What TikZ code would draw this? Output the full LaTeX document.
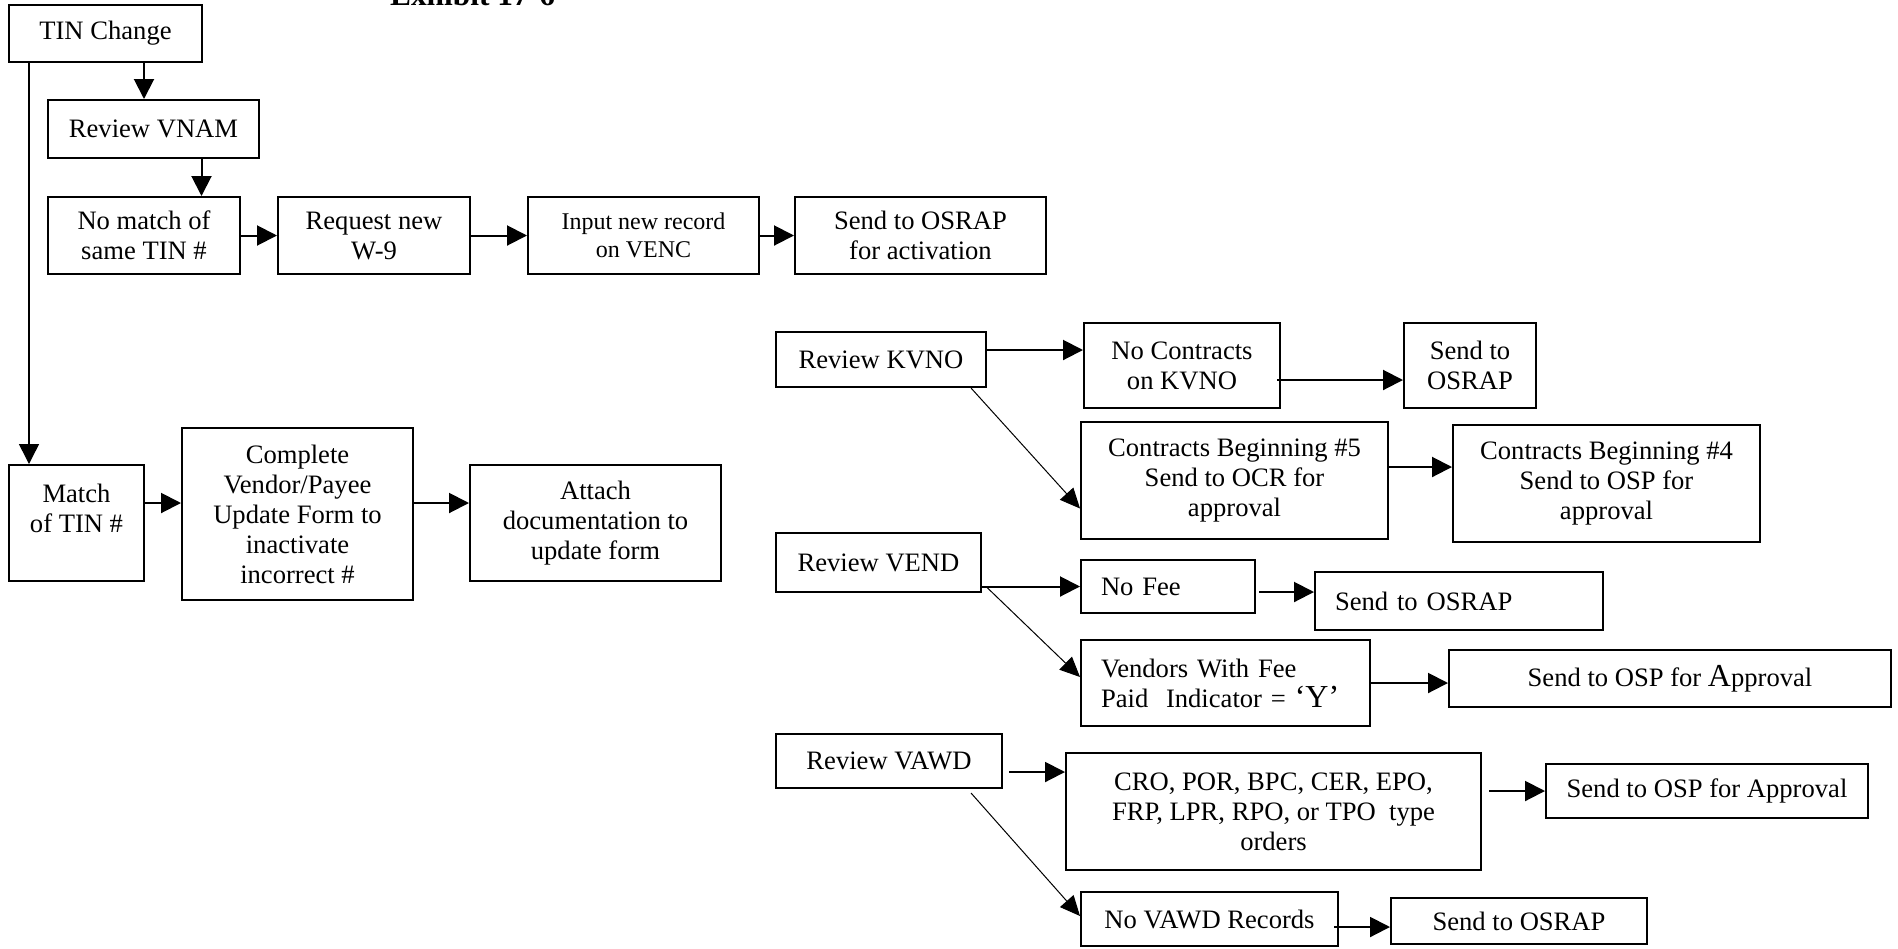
\documentclass[tikz,border=0pt]{standalone}
\usepackage{fontspec}
\setmainfont{Liberation Serif}
\usetikzlibrary{arrows.meta}

\begin{document}
\begin{tikzpicture}[x=0.5pt, y=-0.5pt,
    stage/.style={draw, line width=1pt, inner sep=0pt, align=center,
      font=\fontsize{13.3}{15}\selectfont},
    leftbox/.style={stage, align=left, inner xsep=10pt, text width=#1},
    flow/.style={-{Triangle[length=10pt,width=10pt]}, line width=1pt},
    slant/.style={-{Triangle[length=10pt,width=9pt]}, line width=0.5pt}]
    \useasboundingbox (0,0) rectangle (1898,948);
    % タイトル(上が切れている)
    \node[font=\bfseries\fontsize{15.7}{16}\selectfont, anchor=base west] (title) at (383,5) {Exhibit 17-6};
    % --- 左側: TIN 変更 ---
    \node[stage, minimum width=96.5pt, minimum height=28.5pt] (tin) at (105.5,33.5) {TIN Change};
    \node[stage, minimum width=105.5pt, minimum height=29pt] (vnam) at (153.5,129) {Review VNAM};
    \node[stage, minimum width=96pt, minimum height=38.5pt] (nomatch) at (144,235.5) {No match of\\same TIN \#};
    \node[stage, minimum width=96pt, minimum height=38.5pt] (request) at (374,235.5) {Request new\\W-9};
    \node[stage, minimum width=115.5pt, minimum height=38.5pt, font=\fontsize{12}{14}\selectfont] (input) at (643.5,235.5) {Input new record\\on VENC};
    \node[stage, minimum width=125.5pt, minimum height=38.5pt] (activ) at (920.5,235.5) {Send to OSRAP\\for activation};
    \node[stage, minimum width=67.5pt, minimum height=58pt] (match) at (76.5,523) {Match\\of TIN \#\\ \mbox{}};
    \node[stage, minimum width=115.5pt, minimum height=86pt] (complete) at (297.5,514) {Complete\\Vendor/Payee\\Update Form to\\inactivate\\incorrect \#};
    \node[stage, minimum width=125.5pt, minimum height=58pt] (attach) at (595.5,523) {Attach\\documentation to\\update form};
    % 矢印
    \draw[flow] ([xshift=19.25pt]tin.south) -- ([xshift=19.25pt]tin.south |- vnam.north);
    \draw[flow] ([xshift=24pt]vnam.south) -- ([xshift=24pt]vnam.south |- nomatch.north);
    \draw[flow, line width=0.75pt] ([xshift=10.5pt]tin.south west) -- ([xshift=10.5pt]tin.south west |- match.north);
    \draw[flow] (nomatch.east) -- (request.west);
    \draw[flow] (request.east) -- (input.west);
    \draw[flow] (input.east) -- (activ.west);
    \draw[flow] ([yshift=10pt]match.east) -- ([yshift=10pt]match.east -| complete.west);
    \draw[flow] ([yshift=5.5pt]complete.east) -- ([yshift=5.5pt]complete.east -| attach.west);
    % --- 右側: KVNO ---
    \node[stage, minimum width=105pt, minimum height=27.5pt] (kvno) at (881,359.5) {Review KVNO};
    \node[stage, minimum width=98pt, minimum height=42.5pt] (nocontr) at (1182,365.5) {No Contracts\\on KVNO};
    \node[stage, minimum width=66pt, minimum height=42.5pt] (osrapa) at (1470,365.5) {Send to\\OSRAP};
    \node[stage, minimum width=153.5pt, minimum height=58.5pt] (cfive) at (1234.5,480.5) {Contracts Beginning \#5\\Send to OCR for\\approval};
    \node[stage, minimum width=153.5pt, minimum height=58.5pt] (cfour) at (1606.5,483.5) {Contracts Beginning \#4\\Send to OSP for\\approval};
    \draw[flow] ([yshift=4.75pt]kvno.east) -- ([yshift=4.75pt]kvno.east -| nocontr.west);
    \draw[flow] ([xshift=-2pt,yshift=-7.25pt]nocontr.east) -- ([yshift=-7.25pt]nocontr.east -| osrapa.west);
    \draw[slant] ([xshift=-8pt]kvno.south east) -- ([yshift=-14pt]cfive.west);
    \draw[flow] ([yshift=6.75pt]cfive.east) -- ([yshift=6.75pt]cfive.east -| cfour.west);
    % --- VEND ---
    \node[stage, minimum width=102.5pt, minimum height=29.5pt] (vend) at (878.5,562.5) {Review VEND};
    \node[leftbox=67pt, minimum height=26.5pt] (nofee) at (1168,586.5) {No Fee};
    \node[leftbox=124pt, minimum height=29pt] (osrapb) at (1459,601) {Send to OSRAP};
    \node[leftbox=124.5pt, minimum height=43pt] (vfee) at (1225.5,683) {Vendors With Fee\\Paid\ \ Indicator = {\fontsize{16}{15}\selectfont ‘Y’}};
    \node[stage, minimum width=221pt, minimum height=28.5pt] (ospa) at (1670,678.5) {Send to OSP for {\fontsize{16}{15}\selectfont A}pproval};
    \coordinate (vendout) at (986,586.5);
    \draw[line width=1pt] (vend.east |- vendout) -- (vendout);
    \draw[flow] (vendout) -- (nofee.west);
    \draw[slant] (vendout) -- ([yshift=3pt]vfee.west);
    \draw[flow] ([xshift=1.5pt,yshift=-2.75pt]nofee.east) -- ([yshift=-2.75pt]nofee.east -| osrapb.west);
    \draw[flow] (vfee.east) -- (vfee.east -| ospa.west);
    % --- VAWD ---
    \node[stage, minimum width=113pt, minimum height=27pt] (vawd) at (889,761) {Review VAWD};
    \node[stage, minimum width=207.5pt, minimum height=58.5pt] (cro) at (1273.5,811.5) {CRO, POR, BPC, CER, EPO,\\FRP, LPR, RPO, or TPO\ \ type\\orders};
    \node[stage, minimum width=161pt, minimum height=27pt] (ospb) at (1707,791) {Send to OSP for Approval};
    \node[stage, minimum width=128.5pt, minimum height=27pt] (novawd) at (1209.5,919) {No VAWD Records};
    \node[stage, minimum width=128pt, minimum height=23pt] (osrapc) at (1519,921) {\raisebox{-2pt}{Send to OSRAP}};
    \draw[flow] ([xshift=3pt,yshift=-5.5pt]vawd.east) -- ([yshift=-5.5pt]vawd.east -| cro.west);
    \draw[flow] ([xshift=3.5pt]cro.east |- ospb.west) -- (ospb.west);
    \draw[slant] ([xshift=-16pt,yshift=-2pt]vawd.south east) -- ([yshift=1.5pt]novawd.west);
    \draw[flow] ([xshift=-2.5pt,yshift=-4pt]novawd.east) -- ([yshift=-4pt]novawd.east -| osrapc.west);
\end{tikzpicture}
\end{document}
